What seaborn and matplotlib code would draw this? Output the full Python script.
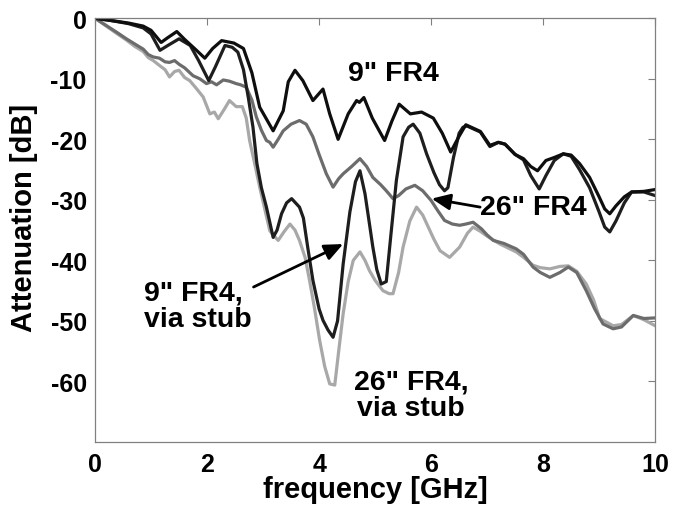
import matplotlib
matplotlib.use("Agg")
import matplotlib.pyplot as plt
import seaborn as sns

sns.set_style("white")
plt.rcParams["font.family"] = ["Liberation Sans", "DejaVu Sans"]
plt.rcParams["font.weight"] = "bold"
plt.rcParams["axes.unicode_minus"] = False
plt.rcParams["text.color"] = "black"
plt.rcParams["axes.labelcolor"] = "black"
plt.rcParams["xtick.labelcolor"] = "black"
plt.rcParams["ytick.labelcolor"] = "black"

# =========================
# Data
# =========================
freq_9in = [0, 0.3, 0.6, 0.86, 1.0, 1.18, 1.3, 1.46, 1.6, 1.8, 1.96, 2.1, 2.26, 2.48,
            2.65, 2.8, 2.94, 3.18, 3.36, 3.45, 3.57, 3.71, 3.89, 4.07, 4.19, 4.34, 4.52,
            4.67, 4.72, 4.8, 4.95, 5.17, 5.3, 5.43, 5.63, 5.83, 6.04, 6.2, 6.35, 6.5,
            6.62, 6.88, 7.05, 7.2, 7.32, 7.5, 7.65, 7.78, 7.9, 8.05, 8.2, 8.36, 8.5,
            8.65, 8.83, 9.0, 9.1, 9.19, 9.3, 9.45, 9.58, 9.8, 10.0]
att_9in = [0, -0.4, -0.8, -1.3, -2.0, -4.0, -3.2, -2.2, -3.5, -5.2, -6.6, -5.0, -3.7, -4.1,
           -5.0, -9.0, -14.7, -18.6, -15.3, -10.5, -8.6, -10.3, -13.6, -11.7, -15.8, -20.0,
           -15.8, -13.6, -13.9, -13.1, -16.5, -20.2, -17.0, -14.2, -15.8, -15.5, -16.5,
           -19.0, -22.1, -19.5, -17.6, -18.7, -21.0, -20.5, -20.8, -22.5, -23.2, -24.5,
           -25.2, -23.5, -23.0, -22.4, -22.6, -24.0, -26.3, -29.5, -31.5, -32.3, -31.0,
           -29.5, -28.7, -28.6, -28.3]

freq_9in_stub = [0, 0.3, 0.6, 0.86, 1.0, 1.16, 1.3, 1.5, 1.7, 1.85, 2.03, 2.15, 2.32, 2.45,
                 2.55, 2.65, 2.74, 2.82, 2.89, 2.97, 3.06, 3.18, 3.25, 3.33, 3.42, 3.51,
                 3.58, 3.65, 3.72, 3.8, 3.89, 4.0, 4.07, 4.16, 4.25, 4.33, 4.43, 4.55,
                 4.65, 4.73, 4.82, 4.9, 4.96, 5.03, 5.11, 5.2, 5.28, 5.38, 5.5, 5.6, 5.68,
                 5.8, 5.92, 6.05, 6.15, 6.24, 6.3, 6.4, 6.5, 6.57, 6.64, 6.88, 7.05, 7.2,
                 7.32, 7.5, 7.65, 7.78, 7.93, 8.05, 8.2, 8.36, 8.5, 8.65, 8.83, 9.0, 9.1,
                 9.19, 9.3, 9.45, 9.58, 9.8, 10.0]
att_9in_stub = [0, -0.4, -0.9, -1.6, -2.6, -5.3, -4.5, -3.4, -4.5, -7.0, -10.3, -8.0, -4.5,
                -4.8, -5.6, -8.5, -13.3, -18.0, -24.0, -28.0, -31.2, -36.2, -35.0, -32.3,
                -30.5, -29.8, -30.5, -31.2, -33.0, -38.0, -43.3, -48.0, -49.9, -51.5,
                -52.7, -50.0, -40.6, -32.0, -27.0, -25.2, -29.0, -34.0, -37.8, -41.5,
                -43.9, -43.5, -36.0, -26.8, -19.6, -18.0, -17.5, -19.0, -22.4, -25.5,
                -27.5, -28.5, -28.0, -23.0, -19.0, -18.0, -17.8, -18.8, -21.2, -20.5,
                -20.8, -22.5, -23.4, -26.0, -28.2, -26.0, -23.5, -22.4, -22.8, -25.0,
                -28.0, -32.0, -34.5, -35.3, -33.5, -30.5, -28.7, -28.7, -29.3]

freq_26in = [0, 0.2, 0.4, 0.56, 0.7, 0.86, 0.95, 1.04, 1.15, 1.25, 1.33, 1.42, 1.5, 1.6,
             1.75, 1.87, 1.99, 2.08, 2.17, 2.29, 2.4, 2.52, 2.6, 2.7, 2.8, 2.88, 2.97,
             3.06, 3.12, 3.18, 3.27, 3.36, 3.5, 3.65, 3.77, 3.89, 4.0, 4.13, 4.25, 4.35,
             4.43, 4.58, 4.73, 4.85, 4.96, 5.1, 5.2, 5.32, 5.42, 5.55, 5.71, 5.85, 6.0,
             6.12, 6.24, 6.38, 6.51, 6.62, 6.75, 6.9, 7.0, 7.11, 7.3, 7.52, 7.65, 7.82,
             7.95, 8.12, 8.3, 8.45, 8.6, 8.77, 8.92, 9.07, 9.25, 9.4, 9.61, 9.8, 10.0]
att_26in = [0, -1.2, -2.4, -3.4, -4.2, -5.1, -6.0, -6.4, -6.6, -7.2, -7.3, -7.0, -7.6,
            -8.2, -9.5, -10.0, -10.8, -10.5, -11.0, -10.2, -10.4, -10.8, -11.0, -11.4,
            -13.5, -16.3, -18.5, -20.2, -20.5, -21.3, -20.0, -18.6, -17.5, -16.9, -17.5,
            -19.6, -22.5, -25.7, -27.9, -26.5, -25.7, -24.5, -23.2, -24.5, -26.3, -27.5,
            -28.5, -29.8, -29.3, -28.2, -27.6, -28.5, -30.1, -31.8, -33.4, -34.0, -34.2,
            -34.0, -33.7, -34.8, -35.8, -36.7, -37.2, -38.1, -39.0, -41.1, -42.0, -42.8,
            -42.0, -41.1, -42.0, -45.0, -48.0, -50.5, -51.3, -51.0, -49.1, -49.6, -49.5]

freq_26in_stub = [0, 0.2, 0.4, 0.56, 0.7, 0.86, 0.95, 1.04, 1.15, 1.25, 1.33, 1.42, 1.5,
                  1.6, 1.69, 1.8, 1.93, 2.05, 2.13, 2.2, 2.31, 2.4, 2.52, 2.63, 2.7, 2.76,
                  2.85, 2.94, 3.03, 3.12, 3.2, 3.27, 3.38, 3.48, 3.57, 3.65, 3.75, 3.83,
                  3.92, 4.01, 4.1, 4.19, 4.28, 4.35, 4.43, 4.52, 4.61, 4.73, 4.82, 4.9,
                  5.0, 5.14, 5.25, 5.32, 5.42, 5.5, 5.62, 5.74, 5.85, 5.95, 6.05, 6.16,
                  6.33, 6.51, 6.65, 6.75, 6.88, 7.0, 7.23, 7.52, 7.65, 7.82, 7.95, 8.12,
                  8.3, 8.45, 8.6, 8.77, 8.9, 9.01, 9.25, 9.4, 9.61, 9.8, 10.0]
att_26in_stub = [0, -1.3, -2.6, -3.6, -4.6, -5.5, -6.5, -7.0, -7.8, -8.5, -9.7, -8.8, -8.6,
                 -9.8, -10.3, -11.5, -13.0, -15.8, -15.5, -16.6, -15.0, -13.6, -14.6,
                 -14.6, -16.5, -20.2, -24.0, -27.9, -31.5, -35.1, -36.0, -36.7, -35.2,
                 -34.0, -35.0, -36.7, -39.5, -43.3, -48.0, -53.2, -57.5, -60.4, -60.6,
                 -55.0, -48.8, -43.5, -40.0, -38.6, -40.0, -41.7, -43.3, -45.0, -45.5,
                 -45.5, -42.0, -37.8, -33.5, -31.2, -32.5, -34.5, -36.5, -38.4, -39.5,
                 -37.8, -35.5, -34.5, -35.2, -36.0, -37.3, -38.6, -39.5, -40.8, -41.2,
                 -41.4, -41.0, -40.9, -41.8, -43.9, -46.5, -49.6, -50.8, -50.6, -49.1,
                 -49.8, -50.8]

x_ticks = [0, 2, 4, 6, 8, 10]
y_ticks = [0, -10, -20, -30, -40, -50, -60]

# ========================
# PLOT
# ========================
fig = plt.figure(figsize=(6.74, 5.06), dpi=100)
ax = fig.add_axes([0.141, 0.1245, 0.831, 0.8375])

lw = 2.3
sns.lineplot(x=freq_26in_stub, y=att_26in_stub, color="#a8a8a8", linewidth=lw, ax=ax)
sns.lineplot(x=freq_26in, y=att_26in, color="#6c6c6c", linewidth=lw, ax=ax)
sns.lineplot(x=freq_9in_stub, y=att_9in_stub, color="#1e1e1e", linewidth=lw, ax=ax)
sns.lineplot(x=freq_9in, y=att_9in, color="#0e0e0e", linewidth=lw, ax=ax)

ax.set_xlim(0, 10)
ax.set_ylim(-70, 0)
ax.set_xticks(x_ticks)
ax.set_yticks(y_ticks)
ax.set_xticklabels([str(t) for t in x_ticks])
ax.set_yticklabels([str(t) for t in y_ticks])
ax.tick_params(direction="in", length=5, width=0.8, color="#808080",
               labelcolor="black", top=True, right=True, labelsize=18)
ax.tick_params(axis="x", pad=7)
ax.tick_params(axis="y", pad=6)
for s in ax.spines.values():
    s.set_color("#808080")
    s.set_linewidth(0.9)

ax.set_xlabel("frequency [GHz]", fontsize=21, fontweight="bold", va="center")
ax.xaxis.set_label_coords(0.5, -0.111)
ax.set_ylabel("Attenuation [dB]", fontsize=21, fontweight="bold", va="center")
ax.yaxis.set_label_coords(-0.127, 0.53)

# annotations
txt = dict(fontsize=20.5, fontweight="bold", color="black")
arrow = dict(arrowstyle="-|>,head_length=0.8,head_width=0.35", color="black",
             lw=2, mutation_scale=14, shrinkA=0, shrinkB=0)

ax.text(5.33, -9.0, '9" FR4', ha="center", va="center", **txt)
ax.text(7.82, -31.1, '26" FR4', ha="center", va="center", **txt)
ax.annotate("", xy=(6.01, -29.8), xytext=(6.875, -31.2), arrowprops=arrow)
ax.text(0.87, -47.5, '9" FR4,\nvia stub', ha="left", va="center",
        linespacing=1.0, **txt)
ax.annotate("", xy=(4.43, -37.3), xytext=(2.83, -44.4), arrowprops=arrow)
ax.text(5.64, -62.2, '26" FR4,\nvia stub', ha="center", va="center",
        linespacing=1.0, **txt)

plt.savefig("out.png", dpi=100)
